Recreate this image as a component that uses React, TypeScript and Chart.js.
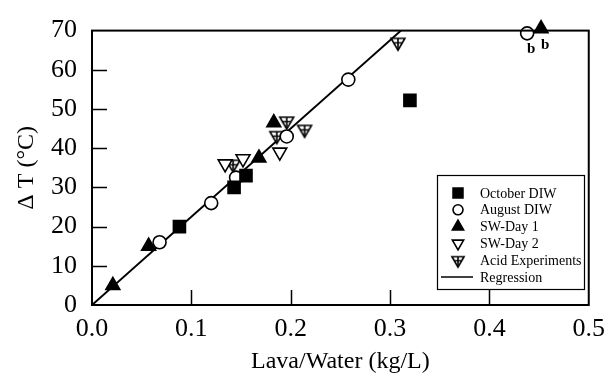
import React, { useEffect, useRef } from 'react';
import { Chart, registerables } from 'chart.js';
import { drawPoint } from 'chart.js/helpers';

Chart.register(...registerables);

// ---- data ----
const xTickValues = [0, 0.1, 0.2, 0.3, 0.4, 0.5];
const yTickValues = [0, 10, 20, 30, 40, 50, 60, 70];

const octoberDIW_x = [0.088, 0.143, 0.155, 0.32];
const octoberDIW_y = [20, 30, 33, 52.2];

const augustDIW_x = [0.068, 0.12, 0.145, 0.196, 0.258, 0.438];
const augustDIW_y = [16, 26, 32.5, 43, 57.5, 69.3];

const swDay1_x = [0.021, 0.057, 0.168, 0.183, 0.452];
const swDay1_y = [5, 15, 37.5, 46.5, 70.5];

const swDay2_x = [0.134, 0.152, 0.189];
const swDay2_y = [36, 37.3, 39];

const acid_x = [0.142, 0.186, 0.196, 0.214, 0.308];
const acid_y = [35.9, 43.2, 46.9, 44.8, 67];

const regression_x = [0, 0.311];
const regression_y = [0, 70];

const noteLabels = ['b', 'b'];
const note_x = [0.438, 0.452];
const note_y = [69.3, 70.5];

const seriesNames = ['October DIW', 'August DIW', 'SW-Day 1', 'SW-Day 2', 'Acid Experiments', 'Regression'];

const xTitle = 'Lava/Water (kg/L)';
const yTitle = 'Δ T (°C)';

const SERIF = '"Liberation Serif", "Times New Roman", serif';

const pts = (xs: number[], ys: number[]) => xs.map((x, i) => ({ x, y: ys[i] }));

function makeAcidMarker(r: number) {
  const c = document.createElement('canvas');
  const size = Math.ceil(r * 2 + 4);
  c.width = size;
  c.height = size;
  const ctx = c.getContext('2d')!;
  const cx = size / 2;
  const cy = size / 2;
  const s = Math.sin(Math.PI / 3) * r;
  ctx.lineWidth = 1.6;
  ctx.strokeStyle = '#000';
  ctx.fillStyle = '#fff';
  ctx.beginPath();
  ctx.moveTo(cx - s, cy - r / 2);
  ctx.lineTo(cx + s, cy - r / 2);
  ctx.lineTo(cx, cy + r);
  ctx.closePath();
  ctx.fill();
  ctx.stroke();
  ctx.beginPath();
  ctx.moveTo(cx, cy - r / 2);
  ctx.lineTo(cx, cy + r);
  const hw = (2 / 3) * s;
  ctx.moveTo(cx - hw, cy + 0.5);
  ctx.lineTo(cx + hw, cy + 0.5);
  ctx.stroke();
  return c;
}

export default function App() {
  const ref = useRef<HTMLCanvasElement | null>(null);

  useEffect(() => {
    document.body.style.margin = '0';
    const canvas = ref.current!;
    const acidMarker = makeAcidMarker(8);
    const acidMarkerSmall = makeAcidMarker(7);

    const markerStyles: any[] = [
      { pointStyle: 'rect', rotation: 0, radius: 8.5, fill: '#000' },
      { pointStyle: 'circle', rotation: 0, radius: 6.5, fill: '#fff' },
      { pointStyle: 'triangle', rotation: 0, radius: 8, fill: '#000' },
      { pointStyle: 'triangle', rotation: 180, radius: 8, fill: '#fff' },
      { pointStyle: acidMarker, rotation: 0, radius: 8, fill: '#fff' },
    ];

    const frameAndTicks = {
      id: 'frameAndTicks',
      afterDatasetsDraw(chart: any) {
        const { ctx, chartArea, scales } = chart;
        const { left, right, top, bottom } = chartArea;
        ctx.save();
        ctx.strokeStyle = '#000';
        ctx.lineWidth = 1.5;
        ctx.beginPath();
        yTickValues.forEach((v) => {
          if (v === yTickValues[0] || v === yTickValues[yTickValues.length - 1]) return;
          const y = Math.round(scales.y.getPixelForValue(v)) + 0.5;
          ctx.moveTo(left, y);
          ctx.lineTo(left + 15, y);
        });
        xTickValues.forEach((v) => {
          if (v === xTickValues[0] || v === xTickValues[xTickValues.length - 1]) return;
          const x = Math.round(scales.x.getPixelForValue(v)) + 0.5;
          ctx.moveTo(x, bottom);
          ctx.lineTo(x, bottom - 15);
        });
        ctx.stroke();
        ctx.lineWidth = 2;
        ctx.strokeRect(left, top, right - left, bottom - top);

        // legend
        const bx = 437, by = 175, bw = 147, bh = 114;
        ctx.fillStyle = '#fff';
        ctx.fillRect(bx, by, bw, bh);
        ctx.lineWidth = 1.2;
        ctx.strokeRect(bx + 0.5, by + 0.5, bw, bh);
        ctx.font = `14px ${SERIF}`;
        ctx.textBaseline = 'middle';
        ctx.textAlign = 'left';
        seriesNames.forEach((name, i) => {
          const ry = by + 18 + i * 16.8;
          if (i < 5) {
            const m = markerStyles[i];
            ctx.fillStyle = m.fill;
            ctx.strokeStyle = '#000';
            ctx.lineWidth = 1.6;
            drawPoint(ctx, {
              pointStyle: i === 4 ? acidMarkerSmall : m.pointStyle,
              rotation: m.rotation,
              radius: m.radius - 1.5,
              borderWidth: 1.6,
            } as any, bx + 21, ry);
          } else {
            ctx.strokeStyle = '#000';
            ctx.lineWidth = 1.5;
            ctx.beginPath();
            ctx.moveTo(bx + 4, ry);
            ctx.lineTo(bx + 36, ry);
            ctx.stroke();
          }
          ctx.fillStyle = '#000';
          ctx.fillText(name, bx + 43, ry + 1);
        });

        // notes
        ctx.font = `bold 15px ${SERIF}`;
        ctx.textAlign = 'center';
        ctx.textBaseline = 'middle';
        noteLabels.forEach((t, i) => {
          const x = scales.x.getPixelForValue(note_x[i]);
          const y = scales.y.getPixelForValue(note_y[i]);
          ctx.fillText(t, x + 4, y + 16);
        });
        ctx.restore();
      },
    };

    const scatterDs = (label: string, xs: number[], ys: number[], m: any) => ({
      type: 'scatter' as const,
      label,
      data: pts(xs, ys),
      pointStyle: m.pointStyle,
      rotation: m.rotation,
      pointRadius: m.radius,
      pointBackgroundColor: m.fill,
      pointBorderColor: '#000',
      pointBorderWidth: 1.6,
      showLine: false,
      clip: false as any,
      order: 0,
    });

    const chart = new Chart(canvas, {
      type: 'scatter',
      data: {
        datasets: [
          {
            type: 'line' as const,
            label: seriesNames[5],
            data: pts(regression_x, regression_y),
            borderColor: '#000',
            borderWidth: 2,
            pointRadius: 0,
            fill: false,
            showLine: true,
            order: 10,
          } as any,
          scatterDs(seriesNames[0], octoberDIW_x, octoberDIW_y, markerStyles[0]),
          scatterDs(seriesNames[1], augustDIW_x, augustDIW_y, markerStyles[1]),
          scatterDs(seriesNames[2], swDay1_x, swDay1_y, markerStyles[2]),
          scatterDs(seriesNames[3], swDay2_x, swDay2_y, markerStyles[3]),
          scatterDs(seriesNames[4], acid_x, acid_y, markerStyles[4]),
        ],
      },
      options: {
        responsive: false,
        animation: false,
        devicePixelRatio: 1,
        layout: { padding: { top: 19, right: 19, left: 0, bottom: 0 } },
        plugins: { legend: { display: false }, tooltip: { enabled: false } },
        scales: {
          x: {
            type: 'linear',
            min: 0,
            max: 0.5,
            afterBuildTicks: (s: any) => { s.ticks = xTickValues.map((v) => ({ value: v })); },
            afterFit: (s: any) => { s.height = 71; },
            grid: { display: false, drawTicks: false },
            border: { display: false },
            ticks: {
              padding: 9,
              color: '#000',
              font: { family: SERIF, size: 26 },
              callback: (v: any) => Number(v).toFixed(1),
              maxRotation: 0,
            },
            title: {
              display: true,
              text: xTitle,
              color: '#000',
              font: { family: SERIF, size: 24 },
              padding: { top: 0, bottom: 0 },
            },
          },
          y: {
            type: 'linear',
            min: 0,
            max: 70,
            afterBuildTicks: (s: any) => { s.ticks = yTickValues.map((v) => ({ value: v })); },
            afterFit: (s: any) => { s.width = 92; },
            grid: { display: false, drawTicks: false },
            border: { display: false },
            ticks: {
              padding: 15,
              color: '#000',
              font: { family: SERIF, size: 26 },
              callback: (v: any) => String(v),
            },
            title: {
              display: true,
              text: yTitle,
              color: '#000',
              font: { family: SERIF, size: 24 },
              padding: { top: 12, bottom: 0 },
            },
          },
        },
      },
      plugins: [frameAndTicks],
    } as any);

    return () => chart.destroy();
  }, []);

  return (
    <div style={{ width: 614, height: 376, background: '#fff' }}>
      <canvas ref={ref} width={614} height={376} style={{ display: 'block' }} />
    </div>
  );
}
